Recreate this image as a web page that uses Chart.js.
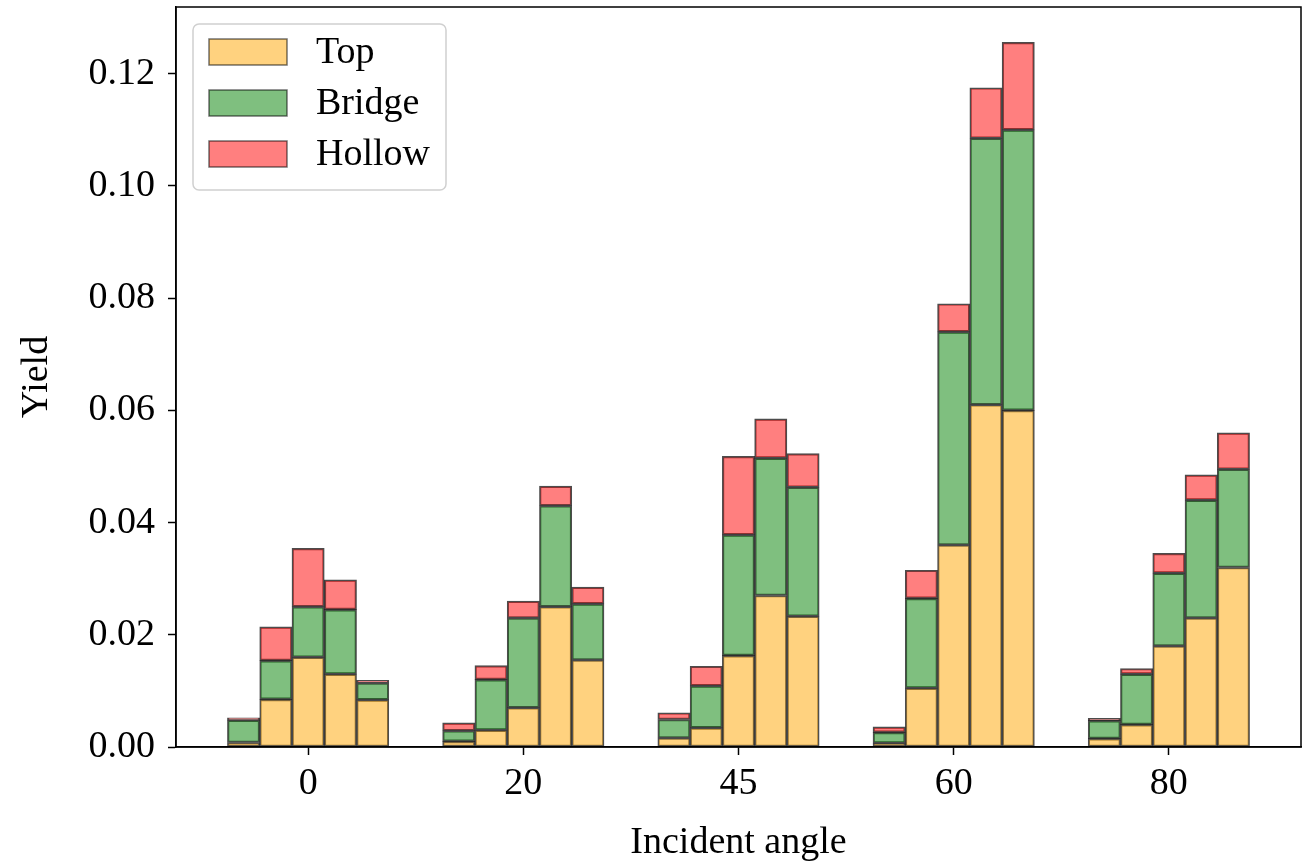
<!DOCTYPE html>
<html lang="en">
<head>
  <meta charset="UTF-8" />
  <title>Yield by incident angle</title>
  <script src="https://cdn.jsdelivr.net/npm/chart.js"></script>
  <style>
    html, body { margin: 0; padding: 0; background: #fff; }
    #wrap { width: 1314px; height: 863px; }
  </style>
</head>
<body>
  <div id="wrap"><canvas id="yieldChart"></canvas></div>

  <script>
    // categories (incident angle) and the five bars inside each group
    const angles = ['0', '20', '45', '60', '80'];
    const yTicks = [0, 0.02, 0.04, 0.06, 0.08, 0.10, 0.12];

    // one row per angle, five bars per row
    const topYield = [
      [0.0008, 0.0085, 0.0160, 0.0130, 0.0084],
      [0.0010, 0.0030, 0.0070, 0.0250, 0.0155],
      [0.0016, 0.0034, 0.0163, 0.0270, 0.0233],
      [0.0007, 0.0105, 0.0360, 0.0610, 0.0600],
      [0.0015, 0.0040, 0.0180, 0.0230, 0.0320]
    ];
    const bridgeYield = [
      [0.0040, 0.0069, 0.0090, 0.0115, 0.0030],
      [0.0019, 0.0090, 0.0160, 0.0180, 0.0100],
      [0.0033, 0.0075, 0.0215, 0.0245, 0.0230],
      [0.0019, 0.0160, 0.0380, 0.0475, 0.0500],
      [0.0032, 0.0090, 0.0130, 0.0210, 0.0175]
    ];
    const hollowYield = [
      [0.0004, 0.0060, 0.0104, 0.0053, 0.0005],
      [0.0014, 0.0025, 0.0030, 0.0035, 0.0030],
      [0.0012, 0.0035, 0.0140, 0.0070, 0.0060],
      [0.0010, 0.0050, 0.0050, 0.0090, 0.0156],
      [0.0004, 0.0010, 0.0035, 0.0045, 0.0065]
    ];

    const barW = 0.15;
    const serif = "'Liberation Serif', 'Times New Roman', serif";
    const edge = 'rgba(0,0,0,0.7)';

    function toPoints(rows) {
      const pts = [];
      rows.forEach((row, g) => {
        row.forEach((v, p) => pts.push({ x: g + (p - 2) * barW, y: v }));
      });
      return pts;
    }

    function series(label, rows, color) {
      return {
        label: label,
        data: toPoints(rows),
        backgroundColor: color,
        borderColor: edge,
        borderWidth: 1.5,
        borderSkipped: false,
        categoryPercentage: 1.0,
        barPercentage: 1.0
      };
    }

    // frame around the plot + legend box in the upper left
    const framePlugin = {
      id: 'frame',
      afterDraw(chart) {
        const { ctx, chartArea: a } = chart;
        ctx.save();
        ctx.strokeStyle = '#000';
        ctx.lineWidth = 1.5;
        ctx.strokeRect(a.left, a.top, a.right - a.left, a.bottom - a.top);

        const lx = a.left + 17, ly = a.top + 17, lw = 253, lh = 166;
        ctx.beginPath();
        ctx.roundRect(lx, ly, lw, lh, 6);
        ctx.fillStyle = 'rgba(255,255,255,0.8)';
        ctx.fill();
        ctx.strokeStyle = '#d0d0d0';
        ctx.lineWidth = 1.5;
        ctx.stroke();

        ctx.font = '38px ' + serif;
        ctx.textBaseline = 'middle';
        chart.data.datasets.forEach((ds, i) => {
          const cy = ly + 28 + i * 51;
          ctx.fillStyle = ds.backgroundColor;
          ctx.fillRect(lx + 16, cy - 13, 78, 26);
          ctx.strokeStyle = 'rgba(0,0,0,0.55)';
          ctx.lineWidth = 1.5;
          ctx.strokeRect(lx + 16, cy - 13, 78, 26);
          ctx.fillStyle = '#000';
          ctx.fillText(ds.label, lx + 123, cy + 1);
        });
        ctx.restore();
      }
    };

    new Chart(document.getElementById('yieldChart'), {
      type: 'bar',
      data: {
        datasets: [
          series('Top', topYield, 'rgba(255,165,0,0.5)'),
          series('Bridge', bridgeYield, 'rgba(0,128,0,0.5)'),
          series('Hollow', hollowYield, 'rgba(255,0,0,0.5)')
        ]
      },
      options: {
        responsive: true,
        maintainAspectRatio: false,
        animation: false,
        layout: { padding: { left: 0, right: 13, top: 7, bottom: 0 } },
        plugins: {
          legend: { display: false },
          tooltip: { enabled: false }
        },
        scales: {
          x: {
            type: 'linear',
            stacked: true,
            offset: false,
            min: -0.614,
            max: 4.614,
            afterBuildTicks: s => { s.ticks = angles.map((_, i) => ({ value: i })); },
            afterFit: s => { s.height = 116; s.paddingLeft = 0; s.paddingRight = 0; },
            ticks: {
              color: '#000',
              font: { family: serif, size: 38 },
              padding: 6,
              maxRotation: 0,
              callback: v => angles[Math.round(v)]
            },
            grid: { offset: false, drawOnChartArea: false, drawTicks: true, tickLength: 8, tickColor: '#000', tickWidth: 1.5 },
            border: { display: true, color: '#000', width: 1.5 },
            title: {
              display: true,
              text: 'Incident angle',
              color: '#000',
              font: { family: serif, size: 38, lineHeight: 1.05 },
              padding: { top: 0, bottom: 0 }
            }
          },
          y: {
            stacked: true,
            min: 0,
            max: 0.1319,
            afterBuildTicks: s => { s.ticks = yTicks.map(v => ({ value: v })); },
            afterFit: s => { s.width = 176; s.paddingTop = 0; s.paddingBottom = 0; },
            ticks: {
              color: '#000',
              font: { family: serif, size: 38 },
              padding: 13,
              callback: v => v.toFixed(2)
            },
            grid: { drawOnChartArea: false, drawTicks: true, tickLength: 8, tickColor: '#000', tickWidth: 1.5 },
            border: { display: true, color: '#000', width: 1.5 },
            title: {
              display: true,
              text: 'Yield',
              color: '#000',
              font: { family: serif, size: 38, lineHeight: 1.2 },
              padding: { top: 14, bottom: 0 }
            }
          }
        }
      },
      plugins: [framePlugin]
    });
  </script>
</body>
</html>
